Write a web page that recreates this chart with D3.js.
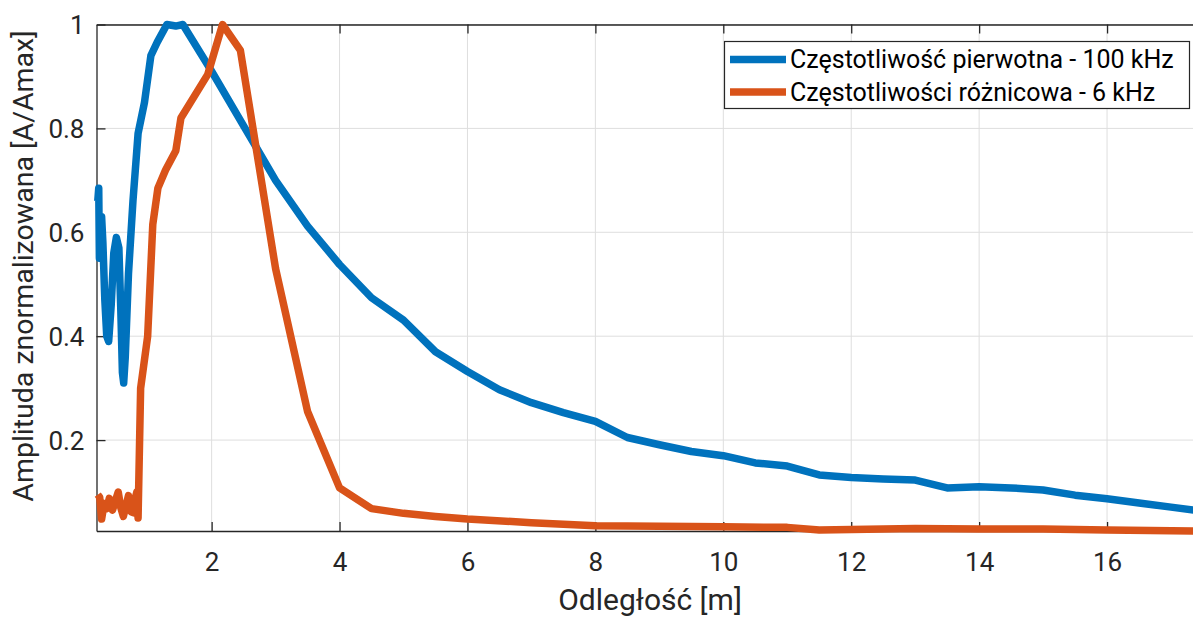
<!DOCTYPE html>
<html><head><meta charset="utf-8">
<script src="https://cdn.jsdelivr.net/npm/d3@7"></script>
<style>body{margin:0;background:#fff;} svg{display:block;font-family:Roboto,"Liberation Sans",Arial,sans-serif;}</style>
</head><body>
<script>
// Series 1: Częstotliwość pierwotna - 100 kHz
const xPrimary = [0.22,0.235,0.245,0.26,0.28,0.30,0.33,0.36,0.39,0.43,0.47,0.51,0.55,0.58,0.605,0.625,0.65,0.70,0.77,0.85,0.95,1.05,1.15,1.30,1.44,1.55,2.0,2.5,3.0,3.5,4.0,4.5,5.0,5.5,6.0,6.5,7.0,7.5,8.0,8.5,9.0,9.5,10.0,10.5,11.0,11.5,12.0,12.5,13.0,13.5,14.0,14.5,15.0,15.5,16.0,16.5,17.0,17.5];
const yPrimary = [0.66,0.685,0.55,0.56,0.63,0.58,0.47,0.40,0.39,0.46,0.56,0.59,0.57,0.45,0.33,0.31,0.36,0.52,0.66,0.79,0.85,0.94,0.966,1.0,0.997,1.0,0.91,0.805,0.70,0.612,0.538,0.474,0.431,0.370,0.332,0.297,0.272,0.253,0.236,0.205,0.191,0.178,0.170,0.156,0.150,0.133,0.128,0.125,0.123,0.108,0.110,0.108,0.104,0.094,0.087,0.079,0.071,0.063];
// Series 2: Częstotliwości różnicowa - 6 kHz
const xDiff = [0.22,0.25,0.28,0.32,0.36,0.40,0.45,0.50,0.54,0.58,0.62,0.67,0.70,0.74,0.78,0.81,0.83,0.85,0.89,1.0,1.08,1.16,1.28,1.44,1.52,1.94,2.17,2.45,3.0,3.5,4.0,4.5,5.0,5.5,6.0,7.0,8.0,9.0,10.0,11.0,11.5,12.0,13.0,14.0,15.0,16.0,17.5];
const yDiff = [0.095,0.09,0.048,0.078,0.068,0.088,0.065,0.085,0.10,0.07,0.053,0.078,0.093,0.062,0.06,0.09,0.10,0.05,0.30,0.40,0.615,0.685,0.72,0.757,0.82,0.904,1.0,0.95,0.53,0.255,0.108,0.068,0.059,0.053,0.048,0.041,0.035,0.034,0.033,0.032,0.027,0.028,0.030,0.029,0.029,0.027,0.025];
const xTicks = [2,4,6,8,10,12,14,16];
const yTicks = [0.2,0.4,0.6,0.8,1];
const seriesNames = ["Częstotliwość pierwotna - 100 kHz","Częstotliwości różnicowa - 6 kHz"];
const seriesColors = ["#0072BD","#D95319"];
const xLabel = "Odległość [m]";
const yLabel = "Amplituda znormalizowana [A/Amax]";

const W = 1193, H = 617;
const L = 96.5, R = 1203, T = 24.5, B = 531;
const svg = d3.select("body").append("svg").attr("width", W).attr("height", H);
const x = d3.scaleLinear().domain([0.2, 17.5]).range([L, R]);
const y = d3.scaleLinear().domain([0.025, 1]).range([B, T]);

// grid
const g = svg.append("g");
g.selectAll(".vg").data(xTicks).join("line")
  .attr("x1", d => x(d)).attr("x2", d => x(d)).attr("y1", T).attr("y2", B)
  .attr("stroke", "#dedede").attr("stroke-width", 1);
g.selectAll(".hg").data(yTicks).join("line")
  .attr("y1", d => y(d)).attr("y2", d => y(d)).attr("x1", L).attr("x2", R)
  .attr("stroke", "#dedede").attr("stroke-width", 1);

const axisColor = "#262626";
const xb = svg.append("g").attr("transform", `translate(0,${B})`)
  .call(d3.axisBottom(x).tickValues(xTicks).tickFormat(d3.format("d")).tickSizeInner(-9).tickSizeOuter(0).tickPadding(22));
const xt = svg.append("g").attr("transform", `translate(0,${T})`)
  .call(d3.axisTop(x).tickValues(xTicks).tickFormat("").tickSizeInner(-9).tickSizeOuter(0));
const yl = svg.append("g").attr("transform", `translate(${L},0)`)
  .call(d3.axisLeft(y).tickValues(yTicks).tickFormat(d => d === 1 ? "1" : d3.format(".1f")(d)).tickSizeInner(-9).tickSizeOuter(0).tickPadding(12));
[xb, xt, yl].forEach(a => {
  a.select(".domain").attr("stroke", axisColor).attr("stroke-width", 1.3);
  a.selectAll(".tick line").attr("stroke", axisColor).attr("stroke-width", 1.3);
  a.selectAll(".tick text").attr("fill", axisColor).style("font-size", "26px").style("font-family", "Roboto, Arial, sans-serif");
});
yl.selectAll(".tick text").attr("dy", "0.36em");

// lines
svg.append("clipPath").attr("id", "clip").append("rect")
  .attr("x", L - 4).attr("y", T - 6).attr("width", R - L + 8).attr("height", B - T + 12);
const line = d3.line().x(d => x(d[0])).y(d => y(d[1]));
const lg = svg.append("g").attr("clip-path", "url(#clip)");
lg.append("path").datum(d3.zip(xPrimary, yPrimary)).attr("d", line)
  .attr("fill", "none").attr("stroke", seriesColors[0]).attr("stroke-width", 7.5).attr("stroke-linejoin", "round");
lg.append("path").datum(d3.zip(xDiff, yDiff)).attr("d", line)
  .attr("fill", "none").attr("stroke", seriesColors[1]).attr("stroke-width", 7.5).attr("stroke-linejoin", "round");

// axis labels
svg.append("text").attr("x", 650).attr("y", 610).attr("text-anchor", "middle")
  .attr("fill", axisColor).style("font-size", "30px").text(xLabel);
svg.append("text").attr("transform", `translate(33,266) rotate(-90)`).attr("text-anchor", "middle")
  .attr("fill", axisColor).style("font-size", "28.5px").text(yLabel);

// legend
const leg = svg.append("g");
leg.append("rect").attr("x", 724.5).attr("y", 41.5).attr("width", 465).attr("height", 67)
  .attr("fill", "#fff").attr("stroke", axisColor).attr("stroke-width", 1.2);
seriesNames.forEach((n, i) => {
  const yy = 59.5 + i * 32.5;
  leg.append("line").attr("x1", 730).attr("x2", 786).attr("y1", yy).attr("y2", yy)
    .attr("stroke", seriesColors[i]).attr("stroke-width", 7.5);
  leg.append("text").attr("x", 790).attr("y", yy).attr("dy", "0.35em")
    .attr("fill", "#000").style("font-size", "25px").text(n);
});
</script>
</body></html>
